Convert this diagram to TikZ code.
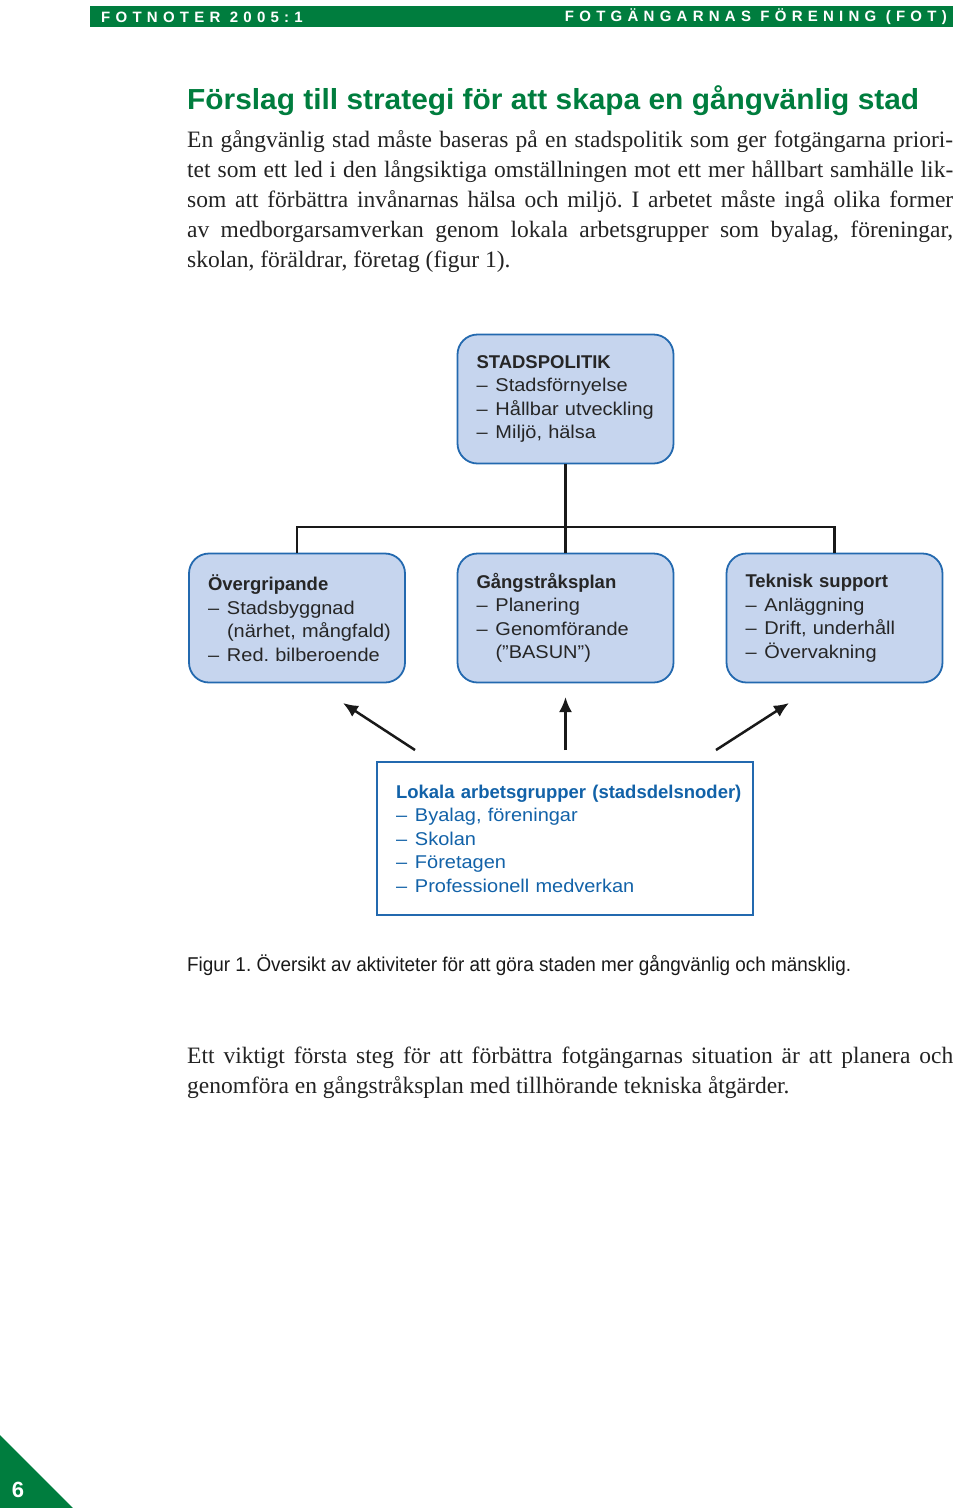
\documentclass[tikz,border=0pt]{standalone}
\usepackage{fontspec}
\setmainfont{Liberation Serif}
\setsansfont{Liberation Sans}
\newfontfamily\boxsans[FakeStretch=1.08, BoldFeatures={FakeStretch=1.0}]{Liberation Sans}
\newfontfamily\narrowsans[FakeStretch=0.945]{Liberation Sans}
\newfontfamily\titlesans[FakeStretch=1.03]{Liberation Sans}
\newfontfamily\bodyserif{Liberation Serif}
\newfontfamily\headsans[LetterSpace=35]{Liberation Sans}
\usetikzlibrary{arrows.meta}

\definecolor{fotgreen}{RGB}{0,125,62}
\definecolor{boxfill}{RGB}{198,213,238}
\definecolor{boxline}{RGB}{35,105,175}
\definecolor{lokalblue}{RGB}{18,98,168}
\definecolor{bodytext}{RGB}{35,35,35}

\newcommand{\itm}[1]{\mbox{\makebox[19pt][l]{–}#1}}
\newcommand{\jline}[1]{\makebox[766pt][s]{#1}}
\frenchspacing

\tikzset{
  headtext/.style={inner sep=0pt, text=white, font=\headsans\bfseries\fontsize{15}{15}\selectfont},
  titletext/.style={inner sep=0pt, anchor=base west, text=fotgreen, font=\titlesans\bfseries\fontsize{29}{29}\selectfont},
  bodyline/.style={inner sep=0pt, anchor=base west, text=bodytext, font=\bodyserif\fontsize{23.5}{30}\selectfont},
  captext/.style={inner sep=0pt, anchor=base west, text=black!90, font=\narrowsans\fontsize{20}{20}\selectfont},
  fotbox/.style={draw=boxline, line width=1.8pt, fill=boxfill, rounded corners=20pt,
    minimum width=216pt, minimum height=129pt, inner xsep=19pt, text width=178pt, align=left,
    text=black!85, font=\boxsans\fontsize{18.5}{23.5}\selectfont},
  lokalbox/.style={draw=boxline, line width=1.8pt, minimum width=376pt, minimum height=153pt,
    inner xsep=19pt, text width=338pt, align=left, text=lokalblue,
    font=\boxsans\fontsize{18.5}{23.5}\selectfont},
  treeline/.style={line width=2.5pt, black!90},
  uparrow/.style={line width=2.5pt, black!90, -{Latex[length=15pt,width=13pt]}},
  pagenum/.style={inner sep=0pt, text=white, font=\sffamily\bfseries\fontsize{22}{22}\selectfont}
}

\begin{document}
\begin{tikzpicture}[x=1pt,y=-1pt]
\useasboundingbox (0,0) rectangle (960,1508);

% header bar
\fill[fotgreen] (90,6) rectangle (953,27);
\node[headtext, anchor=west] (hleft) at (101,17) {FOTNOTER 2005:1};
\node[headtext, anchor=east] (hright) at (947,17) {FOTGÄNGARNAS FÖRENING (FOT)};

% title and text
\node[titletext] (title) at (187,109) {Förslag till strategi för att skapa en gångvänlig stad};
\node[bodyline] (l1) at (187,147) {\jline{En gångvänlig stad måste baseras på en stadspolitik som ger fotgängarna priori-}};
\node[bodyline] (l2) at (187,177) {\jline{tet som ett led i den långsiktiga omställningen mot ett mer hållbart samhälle lik-}};
\node[bodyline] (l3) at (187,207) {\jline{som att förbättra invånarnas hälsa och miljö. I arbetet måste ingå olika former}};
\node[bodyline] (l4) at (187,237) {\jline{av medborgarsamverkan genom lokala arbetsgrupper som byalag, föreningar,}};
\node[bodyline] (l5) at (187,267) {skolan, föräldrar, företag (figur 1).};

% boxes
\node[fotbox] (politik) at (565.5,399) {\textbf{STADSPOLITIK}\\
  \itm{Stadsförnyelse}\\ \itm{Hållbar utveckling}\\ \itm{Miljö, hälsa}};
\node[fotbox] (over) at (297,618) {\textbf{Övergripande}\\
  \itm{Stadsbyggnad}\\ \mbox{\hspace*{19pt}(närhet, mångfald)}\\ \itm{Red. bilberoende}};
\node[fotbox] (gang) at (565.5,618) {\textbf{Gångstråksplan}\\
  \itm{Planering}\\ \itm{Genomförande}\\ \mbox{\hspace*{19pt}(”BASUN”)}};
\node[fotbox] (tek) at (834.5,618) {\textbf{Teknisk support}\\
  \itm{Anläggning}\\ \itm{Drift, underhåll}\\ \itm{Övervakning}};
\node[lokalbox] (lokal) at (565,838.5) {\mbox{\textbf{Lokala arbetsgrupper (stadsdelsnoder)}}\\
  \itm{Byalag, föreningar}\\ \itm{Skolan}\\ \itm{Företagen}\\ \itm{Professionell medverkan}};

% tree
\coordinate (fork) at (565.5,527);
\draw[treeline] (politik.south) -- (fork);
\draw[treeline] (gang.north) -- (fork);
\draw[treeline] (over.north) |- (fork) -| (tek.north);

% arrows
\coordinate (aL) at (415,750);
\coordinate (aM) at (565.5,750);
\coordinate (aR) at (716,750);
\coordinate (tL) at (343,703);
\coordinate (tM) at (565.5,697);
\coordinate (tR) at (789,703);
\draw[uparrow] (aL) -- (tL);
\draw[uparrow] (aM) -- (tM);
\draw[uparrow] (aR) -- (tR);

% caption and text
\node[captext] (cap) at (187,971) {Figur 1. Översikt av aktiviteter för att göra staden mer gångvänlig och mänsklig.};
\node[bodyline] (m1) at (187,1063) {\jline{Ett viktigt första steg för att förbättra fotgängarnas situation är att planera och}};
\node[bodyline] (m2) at (187,1093) {genomföra en gångstråksplan med tillhörande tekniska åtgärder.};

% page corner
\fill[fotgreen] (0,1435) -- (0,1508) -- (73,1508) -- cycle;
\node[pagenum] (page) at (18,1490) {6};
\end{tikzpicture}
\end{document}
